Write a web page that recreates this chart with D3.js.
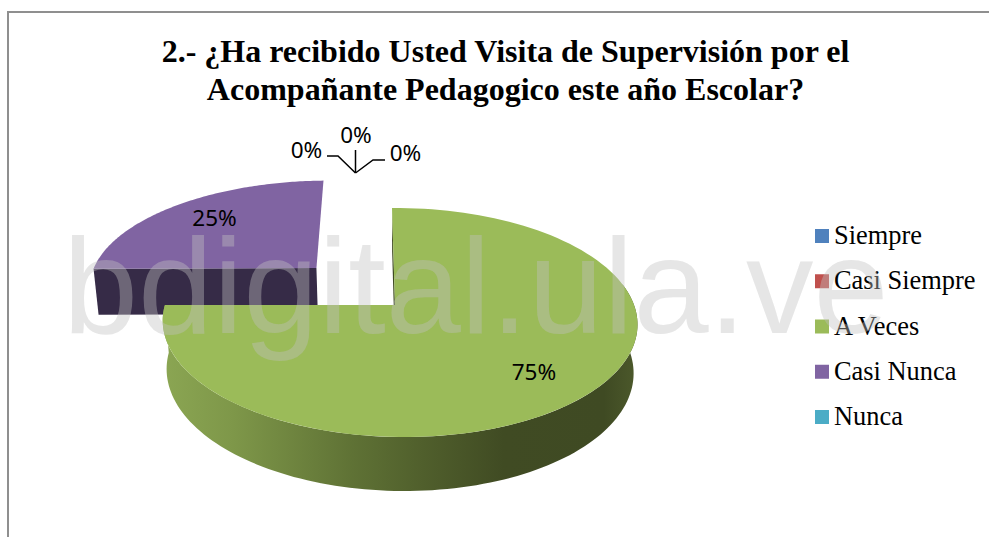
<!DOCTYPE html>
<html><head><meta charset="utf-8">
<script src="https://cdn.jsdelivr.net/npm/d3@7/dist/d3.min.js"></script>
<style>html,body{margin:0;padding:0;background:#fff}svg{display:block}</style>
</head><body><svg id="c" width="989" height="537"></svg>
<script>
const titleLines = ["2.- ¿Ha recibido Usted Visita de Supervisión por el", "Acompañante Pedagogico este año Escolar?"];
const categories = ["Siempre", "Casi Siempre", "A Veces", "Casi Nunca", "Nunca"];
const values = [0, 0, 75, 25, 0];
const colors = ["#4f81bd", "#c0504d", "#9bbb59", "#8064a2", "#4bacc6"];
const sideColors = {"Casi Nunca": "#362b47"};
const watermark = "bdigital.ula.ve";

const svg = d3.select("#c");
const SERIF = "'Liberation Serif','Times New Roman',serif";
const SANS = "'Noto Sans','Open Sans',sans-serif";

// page frame
svg.append("path").attr("d", "M8 537V12H989").attr("fill", "none").attr("stroke", "#8f8f8f").attr("stroke-width", 2);

// title
svg.selectAll("text.title").data(titleLines).join("text").attr("class", "title")
  .attr("x", 505.5).attr("y", (d, i) => 62 + i * 38).attr("text-anchor", "middle")
  .attr("font-family", SERIF).attr("font-weight", "bold").attr("font-size", 32).attr("fill", "#000").text(d => d);

// 3D pie: perspective projection of the unit disc
const x0 = 395, y0 = 305, bx = 234.5, sx = 3.46, ay = 111.8, k = 0.153, m = 0.019;
function topPlane(X, Y) {
  const w = 1 - k * Y - m * X;
  return [x0 + (bx * X + sx * Y) / w, y0 + ay * Y / w];
}
function bottomPlane(X, Y) {
  const [px, py] = topPlane(X, Y);
  return [px - (px - 400) * 0.0165, py + 46 + (py - 267) * 0.047];
}
const pie = d3.pie().sort(null).value(d => d)(values);
const EXPLODE = 0.495;
const slices = pie.map((p, i) => {
  const mid = (p.startAngle + p.endAngle) / 2;
  const out = categories[i] === "Casi Nunca";
  const e = out ? EXPLODE : 0;
  return {...p, i, mid, ox: e * Math.sin(mid), oy: -e * Math.cos(mid), rx: out ? 1.033 : 1};
});
function disc(s, r, a) { return [s.ox + s.rx * r * Math.sin(a), s.oy - r * Math.cos(a)]; }
function rim(s, a0, a1, plane) {
  const n = 120, sc = d3.scaleLinear().domain([0, n]).range([a0, a1]);
  return d3.range(n + 1).map(t => plane(...disc(s, 1, sc(t))));
}
const line = d3.line();
function sector(s, plane) {
  return line([plane(...disc(s, 0, 0)), ...rim(s, s.startAngle, s.endAngle, plane)]) + "Z";
}

// gradient on the outer wall of the big slice
const grad = svg.append("defs").append("linearGradient").attr("id", "wall")
  .attr("gradientUnits", "userSpaceOnUse").attr("x1", 162).attr("x2", 637).attr("y1", 0).attr("y2", 0);
[[0, "#8ba653"], [0.15, "#7e9749"], [0.4, "#5f7235"], [0.55, "#505f2c"], [0.72, "#404b23"], [0.93, "#3f4a23"], [1, "#4c592b"]]
  .forEach(([o, c]) => grad.append("stop").attr("offset", o).attr("stop-color", c));

const pieG = svg.append("g");
const purple = slices.find(s => categories[s.i] === "Casi Nunca");
const green = slices.find(s => categories[s.i] === "A Veces");

// exploded slice: cut wall then top
const pa = disc(purple, 1, purple.startAngle), pc = disc(purple, 0, 0);
pieG.append("path").attr("fill", sideColors["Casi Nunca"]).attr("d",
  line([topPlane(...pa), topPlane(...pc), bottomPlane(...pc), bottomPlane(...pa)]) + "Z");
pieG.append("path").attr("fill", colors[purple.i]).attr("d", sector(purple, topPlane));

// big slice: inner cut wall, outer wall, top
const gs = disc(green, 1, green.startAngle), gc = disc(green, 0, 0);
pieG.append("path").attr("fill", "#3f4a23").attr("d",
  line([topPlane(...gs), topPlane(...gc), bottomPlane(...gc), bottomPlane(...gs)]) + "Z");
const wallTop = rim(green, Math.PI * 0.44, green.endAngle, topPlane);
const wallBot = rim(green, Math.PI * 0.44, green.endAngle, bottomPlane).reverse();
pieG.append("path").attr("fill", "url(#wall)").attr("d", line([...wallTop, ...wallBot]) + "Z");
pieG.append("path").attr("fill", colors[green.i]).attr("d", sector(green, topPlane));

// value labels for the visible slices
const fmt = d3.format(".0%"), total = d3.sum(values);
const LABEL_R = 0.765;
const nudge = {"A Veces": [-3, 0], "Casi Nunca": [7, -1]};
slices.filter(s => s.value > 0).forEach(s => {
  const [lx, ly] = topPlane(...disc(s, LABEL_R, s.mid));
  const [dx, dy] = nudge[categories[s.i]];
  svg.append("text").attr("x", lx + dx).attr("y", ly + 8 + dy).attr("text-anchor", "middle")
    .attr("font-family", SANS).attr("font-size", 22.5).attr("fill", "#000").text(fmt(s.value / total));
});

// callouts for the empty slices
const hub = [355.5, 173];
const zeroSlots = [
  {x: 306.5, y: 158, bend: [[327, 156], [338, 156]]},
  {x: 356, y: 143, bend: [[355.5, 150]]},
  {x: 405.5, y: 161, bend: [[385, 160], [373, 160]]}
];
slices.filter(s => s.value === 0).forEach((s, i) => {
  const slot = zeroSlots[i];
  svg.append("path").attr("fill", "none").attr("stroke", "#000").attr("stroke-width", 1.5).attr("d", line([...slot.bend, hub]));
  svg.append("text").attr("x", slot.x).attr("y", slot.y).attr("text-anchor", "middle")
    .attr("font-family", SANS).attr("font-size", 22.5).attr("fill", "#000").text(fmt(s.value / total));
});

// legend
const ly = d3.scalePoint().domain(categories).range([236, 417]);
const lg = svg.append("g");
lg.selectAll("rect").data(categories).join("rect")
  .attr("x", 815).attr("y", d => ly(d) - 7).attr("width", 14).attr("height", 14).attr("fill", (d, i) => colors[i]);
lg.selectAll("text").data(categories).join("text")
  .attr("x", 834).attr("y", d => ly(d) + 8).attr("font-family", SERIF).attr("font-size", 26.4).attr("fill", "#000").text(d => d);

// watermark on top of everything
svg.append("text").attr("x", 63).attr("y", 333).attr("font-family", "'Liberation Sans',Arial,sans-serif")
  .attr("font-size", 135).attr("fill", "rgb(192,192,192)").attr("fill-opacity", 0.4).text(watermark);
</script></body></html>
